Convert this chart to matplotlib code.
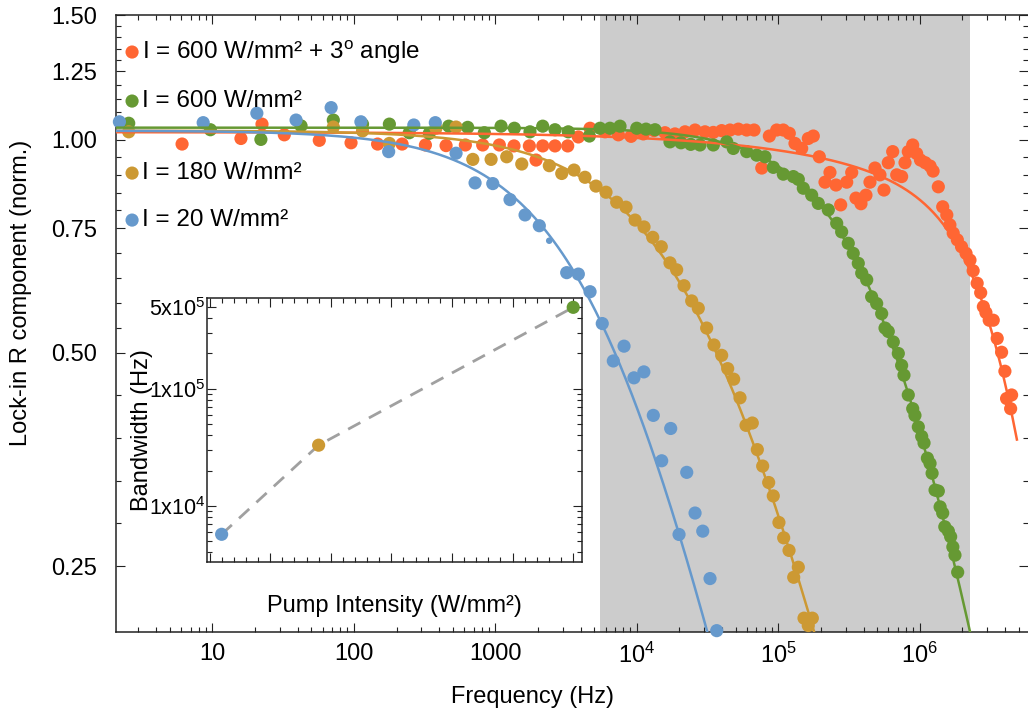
import numpy as np
import matplotlib
matplotlib.use('Agg')
import matplotlib.pyplot as plt
from matplotlib.ticker import FixedLocator, FixedFormatter, NullFormatter, LogLocator, MultipleLocator

plt.rcParams['font.family'] = ['Liberation Sans', 'DejaVu Sans']
plt.rcParams['mathtext.fontset'] = 'custom'
plt.rcParams['mathtext.rm'] = 'Liberation Sans'
plt.rcParams['mathtext.it'] = 'Liberation Sans:italic'
plt.rcParams['mathtext.bf'] = 'Liberation Sans:bold'

# --- data ---
orange_f = [6.1, 15.9, 22.4, 32.2, 56.9, 95.4, 147, 219, 320, 448,
            613, 813, 1066, 1353, 1737, 1937, 2160, 2637, 3243, 3855,
            4665, 5960, 7397, 9090, 11100, 13210, 15800, 18580, 21880, 25760,
            30290, 34670, 39730, 45500, 52100, 59700, 67300, 76300, 86300, 97300,
            108300, 119400, 131000, 146100, 162700, 176500, 194600, 213500, 231500, 255500,
            275600, 304000, 329800, 353400, 383400, 415900, 443800, 481500, 522300, 557500,
            598000, 642500, 686000, 743000, 785000, 828000, 890000, 949000, 1.01e6, 1.09e6,
            1.18e6, 1.24e6, 1.35e6, 1.45e6, 1.55e6, 1.63e6, 1.72e6, 1.84e6, 1.97e6, 2.12e6,
            2.26e6, 2.38e6, 2.54e6, 2.69e6, 2.81e6, 2.93e6, 3.09e6, 3.30e6, 3.52e6, 3.78e6,
            3.99e6, 4.10e6, 4.38e6, 4.45e6]
orange_r = [0.986, 1.004, 1.052, 1.016, 0.998, 0.990, 0.986, 0.986, 0.983, 0.981,
            0.983, 0.983, 0.983, 0.980, 0.980, 0.936, 0.980, 0.980, 0.980, 1.009,
            1.038, 1.026, 1.016, 1.011, 1.019, 1.030, 1.023, 1.019, 1.026, 1.032,
            1.026, 1.024, 1.030, 1.032, 1.035, 1.032, 1.032, 0.912, 1.012, 1.032,
            1.032, 1.021, 0.988, 0.972, 1.004, 1.012, 0.946, 0.871, 0.899, 0.863,
            0.809, 0.871, 0.899, 0.827, 0.812, 0.835, 0.871, 0.912, 0.892, 0.849,
            0.928, 0.962, 0.892, 0.887, 0.928, 0.962, 0.983, 0.956, 0.936, 0.928,
            0.918, 0.903, 0.858, 0.804, 0.783, 0.758, 0.738, 0.722, 0.706, 0.691,
            0.676, 0.653, 0.627, 0.608, 0.581, 0.570, 0.556, 0.556, 0.524, 0.501,
            0.471, 0.431, 0.417, 0.436]

green_f = [2.56, 9.67, 22.0, 42.3, 71.5, 115, 178, 246, 341, 468,
           637, 835, 1096, 1361, 1755, 2159, 2637, 3273, 4612, 5486,
           6453, 7598, 9973, 11600, 13430, 17130, 20500, 24000, 27900, 34670,
           43130, 48000, 59680, 70270, 80420, 92040, 108300, 127500, 138300, 150000,
           171900, 191400, 225300, 258300, 280000, 311800, 338000, 367000, 388000, 421000,
           456000, 495000, 537000, 567000, 598000, 649000, 704000, 743000, 772000, 828000,
           890000, 923000, 975000, 1.03e6, 1.07e6, 1.13e6, 1.18e6, 1.22e6, 1.28e6, 1.35e6,
           1.39e6, 1.45e6, 1.50e6, 1.59e6, 1.65e6, 1.71e6, 1.77e6, 1.85e6]
green_r = [1.055, 1.033, 1.001, 1.046, 1.066, 1.052, 1.052, 1.023, 1.021, 1.045,
           1.041, 1.023, 1.045, 1.038, 1.026, 1.045, 1.033, 1.026, 1.012, 1.038,
           1.038, 1.045, 1.038, 1.035, 1.033, 0.993, 0.990, 0.985, 0.983, 0.983,
           0.993, 0.972, 0.962, 0.951, 0.946, 0.914, 0.894, 0.887, 0.879, 0.854,
           0.835, 0.813, 0.796, 0.762, 0.741, 0.714, 0.691, 0.669, 0.648, 0.634,
           0.600, 0.587, 0.568, 0.542, 0.536, 0.518, 0.499, 0.480, 0.465, 0.436,
           0.417, 0.408, 0.393, 0.381, 0.373, 0.355, 0.349, 0.338, 0.320, 0.319,
           0.303, 0.297, 0.284, 0.280, 0.275, 0.266, 0.259, 0.245]

yellow_f = [2.56, 71.5, 115, 178, 380, 527, 692, 932, 1202, 1535,
            2404, 2943, 3593, 4295, 5136, 6048, 7197, 8375, 9700, 11230,
            12940, 14870, 17130, 19100, 21530, 24390, 27160, 31120, 35050, 39730,
            43820, 48310, 53540, 59040, 65400, 70980, 77450, 85380, 92000, 100900,
            109000, 118900, 128300, 138300, 151700, 162600, 173700]
yellow_r = [1.026, 1.042, 1.029, 0.988, 1.038, 1.042, 0.938, 0.938, 0.946, 0.924,
            0.919, 0.896, 0.906, 0.885, 0.860, 0.843, 0.816, 0.803, 0.770, 0.753,
            0.728, 0.706, 0.670, 0.655, 0.622, 0.592, 0.578, 0.542, 0.513, 0.496,
            0.475, 0.459, 0.432, 0.395, 0.398, 0.365, 0.346, 0.328, 0.314, 0.288,
            0.274, 0.263, 0.241, 0.249, 0.211, 0.206, 0.211]

blue_f = [2.2, 8.6, 20.6, 39, 69, 112, 176, 265, 376, 527,
          718, 958, 1268, 1620, 2043, 3190, 3855, 4665, 5690, 6810,
          8110, 9530, 11200, 13060, 14970, 17330, 19850, 22500, 25760, 29200,
          32870, 36650]
blue_r = [1.06, 1.057, 1.09, 1.066, 1.11, 1.06, 0.962, 1.049, 1.057, 0.957,
          0.869, 0.867, 0.823, 0.783, 0.756, 0.649, 0.646, 0.610, 0.550, 0.487,
          0.511, 0.461, 0.470, 0.408, 0.352, 0.391, 0.277, 0.339, 0.297, 0.280,
          0.240, 0.2026]
blue_small_f = [2400]
blue_small_r = [0.720]

# fit parameters: R = amp / (1 + (f/fc)^n + (f/f2)^n2)
fit_amp = [1.025, 1.04, 1.03, 1.03]
fit_fc = [2.73e7, 6.2e5, 3.4e4, 6.55e3]
fit_n = [0.5, 1.1, 0.85, 0.9]
fit_f2 = [4.26e6, np.inf, np.inf, np.inf]
fit_n2 = [2.0, 1.0, 1.0, 1.0]
fit_fmax = [4.85e6, 5e6, 5e6, 5e6]

labels = ['I = 600 W/mm² + 3$^{\\mathregular{o}}$ angle', 'I = 600 W/mm²',
          'I = 180 W/mm²', 'I = 20 W/mm²']
colors = ['#FF6633', '#669933', '#CC9933', '#6699CC']

shade_lo, shade_hi = 5480, 2.26e6

# inset: bandwidth vs pump intensity
pump_intensity = [20, 180, 600]
bandwidth = [5710, 32900, 494000]
inset_colors = ['#6699CC', '#CC9933', '#669933']

x_major = [10, 100, 1000, 1e4, 1e5, 1e6]
x_labels = ['10', '100', '1000', r'$\mathregular{10^4}$', r'$\mathregular{10^5}$', r'$\mathregular{10^6}$']
y_major = [0.25, 0.5, 0.75, 1.0, 1.25, 1.5]
y_labels = ['0.25', '0.50', '0.75', '1.00', '1.25', '1.50']
inset_y_major = [1e4, 1e5, 5e5]
inset_y_labels = [r'$\mathregular{1x10^4}$', r'$\mathregular{1x10^5}$', r'$\mathregular{5x10^5}$']


def rolloff(f, amp, fc, n, f2, n2):
    return amp / (1 + (f / fc) ** n + (f / f2) ** n2)


fig = plt.figure(figsize=(10.28, 7.19), dpi=100)
ax = fig.add_axes([0.1124, 0.1214, 0.8876, 0.8577])
ax.set_xscale('log')
ax.set_yscale('log')
ax.set_xlim(2.066, 5.81e6)
ax.set_ylim(0.2019, 1.5)

ax.axvspan(shade_lo, shade_hi, color='#CCCCCC', lw=0, zorder=0)

series = [(orange_f, orange_r), (green_f, green_r), (yellow_f, yellow_r), (blue_f, blue_r)]
for i, (f, r) in enumerate(series):
    ax.scatter(f, r, s=90, color=colors[i], edgecolors='none', zorder=3, clip_on=False)
ax.scatter(blue_small_f, blue_small_r, s=22, color=colors[3], edgecolors='none', zorder=3)

for i in range(4):
    ff = np.geomspace(2.0, fit_fmax[i], 600)
    ax.plot(ff, rolloff(ff, fit_amp[i], fit_fc[i], fit_n[i], fit_f2[i], fit_n2[i]),
            color=colors[i], lw=1.8, zorder=4)

# legend (individually placed entries)
leg_y = [0.940, 0.8605, 0.7437, 0.6675]
for i in range(4):
    ax.scatter([0.0181], [leg_y[i]], s=90, color=colors[i], edgecolors='none',
               transform=ax.transAxes, zorder=5)
    ax.text(0.029, leg_y[i], labels[i], transform=ax.transAxes, va='center',
            ha='left', fontsize=17.5, zorder=5)

ax.xaxis.set_major_locator(FixedLocator(x_major))
ax.xaxis.set_major_formatter(FixedFormatter(x_labels))
ax.xaxis.set_minor_locator(LogLocator(base=10, subs=np.arange(2, 10)))
ax.xaxis.set_minor_formatter(NullFormatter())

y_minor = []
for lo, hi in zip(y_major[:-1], y_major[1:]):
    y_minor += list(np.geomspace(lo, hi, 6)[1:-1])
ax.yaxis.set_major_locator(FixedLocator(y_major))
ax.yaxis.set_major_formatter(FixedFormatter(y_labels))
ax.yaxis.set_minor_locator(FixedLocator(y_minor))
ax.yaxis.set_minor_formatter(NullFormatter())

ax.tick_params(which='both', direction='in', top=True, right=True, width=0.8, color='#222222')
ax.tick_params(which='major', length=6.5, labelsize=17)
ax.tick_params(which='minor', length=3.6)
ax.tick_params(axis='x', which='major', pad=8)
ax.tick_params(axis='y', which='major', pad=13)
for side in ['left', 'bottom', 'top']:
    ax.spines[side].set_linewidth(1.1)
    ax.spines[side].set_color('#222222')
ax.spines['right'].set_visible(False)

ax.set_xlabel('Frequency (Hz)', fontsize=17)
ax.xaxis.set_label_coords(0.4575, -0.088)
ax.set_ylabel('Lock-in R component (norm.)', fontsize=17)
ax.yaxis.set_label_coords(-0.0915, 0.55)

# inset
axin = fig.add_axes([0.2018, 0.2188, 0.3643, 0.3668])
axin.set_yscale('log')
axin.set_xlim(-3.4, 614.4)
axin.set_ylim(3334, 594000)
axin.plot(pump_intensity, bandwidth, color='#A0A0A0', lw=2.0, dashes=(5, 3.5), zorder=2)
axin.scatter(pump_intensity, bandwidth, s=90, color=inset_colors, edgecolors='none', zorder=3)

axin.xaxis.set_major_locator(MultipleLocator(100))
axin.xaxis.set_minor_locator(MultipleLocator(20))
axin.xaxis.set_major_formatter(NullFormatter())
axin.yaxis.set_major_locator(FixedLocator(inset_y_major))
axin.yaxis.set_major_formatter(FixedFormatter(inset_y_labels))
axin.yaxis.set_minor_locator(LogLocator(base=10, subs=np.arange(2, 10)))
axin.yaxis.set_minor_formatter(NullFormatter())
axin.tick_params(which='both', direction='in', top=True, right=True, width=0.8, color='#222222')
axin.tick_params(which='major', length=6.5, labelsize=15.5, pad=1)
axin.tick_params(which='minor', length=3.6)
for side in axin.spines:
    axin.spines[side].set_linewidth(1.1)
    axin.spines[side].set_color('#222222')

axin.set_xlabel('Pump Intensity (W/mm²)', fontsize=17)
axin.xaxis.set_label_coords(0.5, -0.126)
axin.set_ylabel('Bandwidth (Hz)', fontsize=17)
axin.yaxis.set_label_coords(-0.1455, 0.5)

fig.savefig('out.png', dpi=100)
